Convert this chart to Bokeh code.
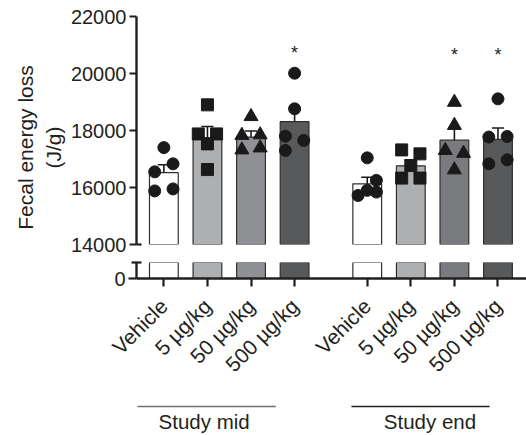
import math
from bokeh.plotting import figure
from bokeh.layouts import column, row
from bokeh.models import FixedTicker, CustomJSTickFormatter, Range1d, ColumnDataSource
from bokeh.embed import file_html
from bokeh.resources import INLINE
from bokeh.core.properties import value

# ---------------- data ----------------
studies = ["Study mid", "Study end"]
doses = ["Vehicle", "5 µg/kg", "50 µg/kg", "500 µg/kg"]
y_title = ["Fecal energy loss", "(J/g)"]

mid_mean = [16520, 17740, 17770, 18310]
mid_sem = [280, 400, 210, 490]
end_mean = [16130, 16760, 17660, 17690]
end_sem = [230, 210, 415, 400]

mid_points = [
    [17400, 16830, 16550, 15880, 15950],
    [18900, 17880, 17880, 17530, 16630],
    [18490, 17830, 17850, 17320, 17390],
    [20010, 18760, 17800, 17650, 17300],
]
end_points = [
    [17040, 16250, 15720, 15900, 15840],
    [17320, 17180, 16770, 16330, 16330],
    [18990, 18180, 17300, 17200, 16620],
    [19110, 17770, 17790, 16830, 16970],
]
mid_significant = [False, False, False, True]
end_significant = [False, False, True, True]

y_ticks_upper = [14000, 16000, 18000, 20000, 22000]

# ---------------- layout / style ----------------
FONT = "Liberation Sans"
INK = "#231f20"
mid_colors = ["#ffffff", "#adafb1", "#8f9194", "#58595b"]
end_colors = ["#ffffff", "#adafb1", "#7a7b7e", "#58595b"]
markers = ["circle", "square", "triangle", "circle"]
marker_sizes = [12, 12, 14, 12]
mid_jitter = [[0, 1, -1, -1, 1], [0, -1, 1, 0, 0], [0, -1, 1, -1, 1], [0, 0, -1, 1, -1]]
end_jitter = [[0, 1, -1, 0, 1], [-1, 1, 0, -1, 1], [0, 0, -1, 1, 0], [0, -1, 1, -1, 1]]
JIT = 0.21
GROUP_OFFSET = 4.667
BAR_W = 0.66

TOTAL_W = 526
TITLE_W = 67
AXIS_PX = 134          # page x of frame left edge
W = TOTAL_W - TITLE_W
LEFT = AXIS_PX - TITLE_W
UNIT = 43.8            # px per x unit
x0 = -0.628
x1 = x0 + (W - LEFT) / UNIT
xr = Range1d(x0, x1)

mid_x = [i for i in range(len(doses))]
end_x = [GROUP_OFFSET + i for i in range(len(doses))]
all_x = mid_x + end_x
all_labels = doses + doses


def px_to_x(px):
    return x0 + (px - AXIS_PX) / UNIT


def style_common(p):
    p.background_fill_color = "white"
    p.border_fill_color = "white"
    p.outline_line_color = None
    p.xgrid.visible = False
    p.ygrid.visible = False


def style_axis(ax, size="20px"):
    ax.axis_line_width = 2.4
    ax.axis_line_color = INK
    ax.major_tick_line_width = 2.2
    ax.major_tick_line_color = INK
    ax.minor_tick_line_width = 2.2
    ax.minor_tick_line_color = INK
    ax.major_label_text_font = FONT
    ax.major_label_text_font_size = size
    ax.major_label_text_color = INK


def draw_bars(p):
    for xs, means, sems, colors, pts, jit in [
        (mid_x, mid_mean, mid_sem, mid_colors, mid_points, mid_jitter),
        (end_x, end_mean, end_sem, end_colors, end_points, end_jitter),
    ]:
        src = ColumnDataSource(dict(x=xs, top=means, color=colors,
                                    up=[m + s for m, s in zip(means, sems)]))
        p.vbar(x="x", width=BAR_W, bottom=0, top="top", fill_color="color",
               line_color="#2e2e2e", line_width=1.2, source=src)
        p.segment(x0="x", y0="top", x1="x", y1="up", line_color="#1a1a1a",
                  line_width=1.6, source=src)
        p.segment(x0=[x - 0.14 for x in xs], y0=src.data["up"], x1=[x + 0.14 for x in xs],
                  y1=src.data["up"], line_color="#1a1a1a", line_width=1.6)
        for i in range(len(xs)):
            px = [xs[i] + JIT * j for j in jit[i]]
            p.scatter(px, pts[i], marker=markers[i], size=marker_sizes[i],
                      fill_color="#1a1a1a", line_color="#1a1a1a")


# ---------------- y title column ----------------
ttl = figure(width=TITLE_W, height=435, x_range=Range1d(0, TITLE_W), y_range=Range1d(0, 435),
             output_backend="svg", toolbar_location=None,
             x_axis_location=None, y_axis_location=None,
             min_border=0)
style_common(ttl)
ttl.text(x=[25, 53], y=[435 - 147, 435 - 147], text=y_title, angle=math.pi / 2,
         text_align="center", text_baseline="middle", text_font=value(FONT),
         text_font_size="21px", text_color=INK)

# ---------------- upper panel ----------------
top = figure(width=W, height=259, x_range=xr, y_range=Range1d(14000, 22000),
             output_backend="svg", toolbar_location=None, x_axis_location=None,
             min_border_left=LEFT, min_border_right=0, min_border_top=16, min_border_bottom=15)
style_common(top)
draw_bars(top)

star_x = [x for x, s in zip(mid_x, mid_significant) if s] + [x for x, s in zip(end_x, end_significant) if s]
star_y = [20730] * sum(mid_significant) + [20640] * sum(end_significant)
top.text(x=star_x, y=star_y, text=["*"] * len(star_x), text_align="center",
         text_baseline="alphabetic", text_font=value(FONT), text_font_size="18px", text_color=INK)

ya = top.yaxis[0]
ya.ticker = FixedTicker(ticks=y_ticks_upper, minor_ticks=[y_ticks_upper[0]])
style_axis(ya)
ya.major_tick_out = 7
ya.major_tick_in = 0
ya.minor_tick_out = 0
ya.minor_tick_in = 5
ya.major_label_standoff = 3

# ---------------- lower panel ----------------
low_top = 560
bot = figure(width=W, height=131, x_range=xr, y_range=Range1d(0, low_top),
             output_backend="svg", toolbar_location=None,
             min_border_left=LEFT, min_border_right=0, min_border_top=3, min_border_bottom=112)
style_common(bot)
draw_bars(bot)

yb = bot.yaxis[0]
yb.ticker = FixedTicker(ticks=[0], minor_ticks=[low_top])
style_axis(yb)
yb.major_tick_out = 8
yb.major_tick_in = 0
yb.minor_tick_out = 5
yb.minor_tick_in = 5
yb.major_label_standoff = 3

xb = bot.xaxis[0]
xb.ticker = FixedTicker(ticks=all_x)
xb.formatter = CustomJSTickFormatter(args=dict(tick_vals=all_x, tick_names=all_labels), code="""
const i = tick_vals.findIndex(t => Math.abs(t - tick) < 1e-6);
return i >= 0 ? tick_names[i] : '';
""")
style_axis(xb, size="21px")
xb.major_tick_out = 8
xb.major_tick_in = 0
xb.minor_tick_line_color = None
xb.major_label_orientation = math.pi / 4
xb.major_label_standoff = 16

# ---------------- group labels ----------------
GH = 45
grp = figure(width=W, height=GH, x_range=xr, y_range=Range1d(0, GH),
             output_backend="svg", toolbar_location=None,
             x_axis_location=None, y_axis_location=None,
             min_border_left=LEFT, min_border_right=0, min_border_top=0, min_border_bottom=0)
style_common(grp)
line_spans = [(px_to_x(135), px_to_x(274)), (px_to_x(350), px_to_x(489))]
line_colors = ["#707070", "#222222"]
for (a, b), c in zip(line_spans, line_colors):
    grp.line([a, b], [GH - 16, GH - 16], line_color=c, line_width=1.3)
grp.text(x=[px_to_x(202), px_to_x(429)], y=[GH - 19, GH - 19], text=studies,
         text_align="center", text_baseline="top", text_font=value(FONT),
         text_font_size="20.5px", text_color=INK)

layout = row(ttl, column(top, bot, grp, spacing=0), spacing=0)
open("out.html", "w").write(file_html(layout, INLINE))
